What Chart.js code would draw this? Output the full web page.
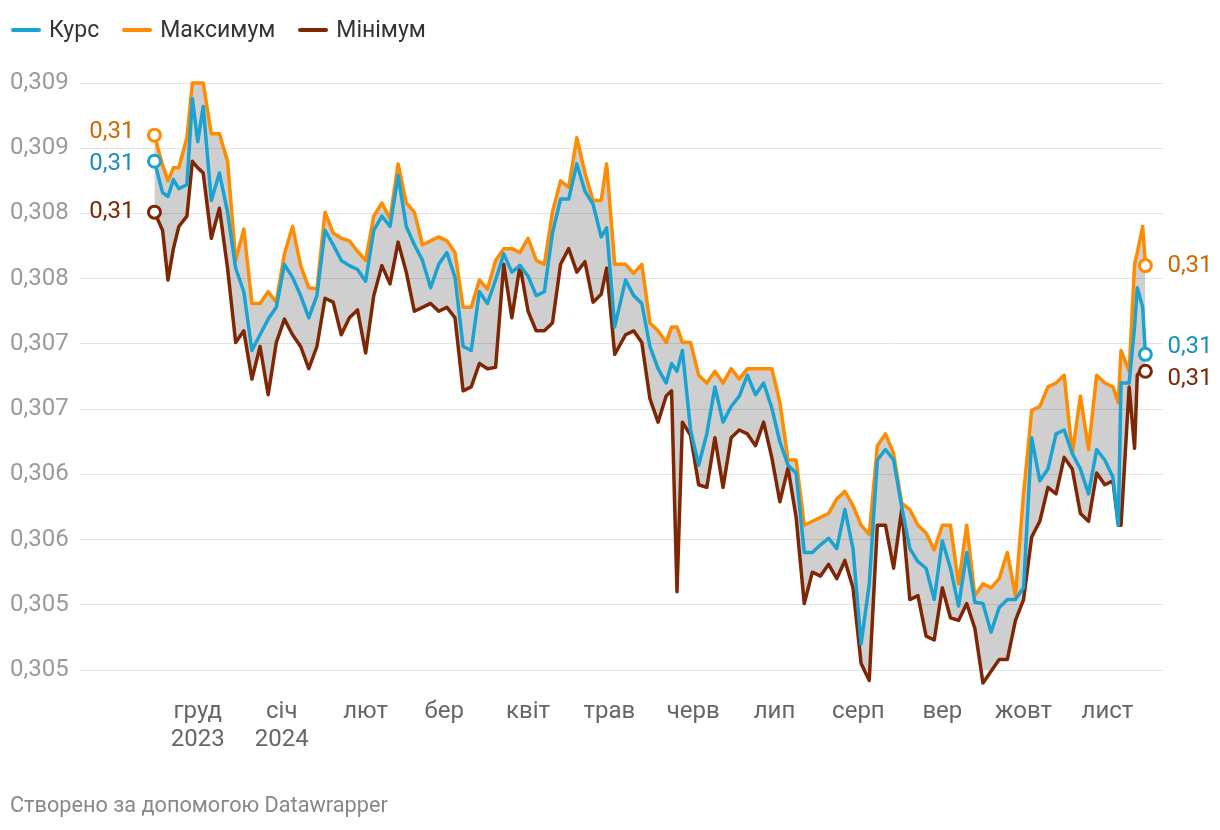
<!DOCTYPE html>
<html>
<head>
<meta charset="utf-8">
<script src="https://cdn.jsdelivr.net/npm/chart.js@4.4.0/dist/chart.umd.min.js"></script>
<style>
  body { margin: 0; background: #fff; font-family: Roboto, sans-serif; }
  #wrap { position: relative; width: 1220px; height: 830px; overflow: hidden; }
  canvas { position: absolute; left: 0; top: 0; }
  #legend { position: absolute; left: 11px; top: 16px; display: flex; font-size: 23px; color: #333; z-index: 2; }
  .item { display: flex; align-items: center; margin-right: 23px; }
  .sw { width: 30px; height: 4px; border-radius: 2px; margin-right: 8px; }
  #footer { position: absolute; left: 10px; top: 792px; font-size: 21.7px; color: #888; }
</style>
</head>
<body>
<div id="wrap">
  <canvas id="chart" width="1220" height="830"></canvas>
  <div id="legend"></div>
  <div id="footer">Створено за допомогою Datawrapper</div>
</div>
<script>
// days counted from 15.11.2023
var days = [0, 3, 5, 7, 9, 12, 14, 16, 18, 21, 24, 27, 30, 33, 36, 39, 42, 45, 48, 51,
  54, 57, 60, 63, 66, 69, 72, 75, 78, 81, 84, 87, 90, 93, 96, 99, 102, 105, 108, 111,
  114, 117, 120, 123, 126, 129, 132, 135, 138, 141, 144, 147, 150, 153, 156, 159, 162, 165, 167, 170,
  174, 177, 180, 183, 186, 189, 191, 193, 195, 198, 201, 204, 207, 210, 213, 216, 219, 222, 225, 228,
  231, 234, 237, 240, 243, 246, 249, 252, 255, 258, 261, 264, 267, 270, 273, 276, 279, 282, 285, 288,
  291, 294, 297, 300, 303, 306, 309, 312, 315, 318, 321, 324, 327, 330, 333, 336, 339, 342, 345, 348,
  351, 354, 356, 357, 360, 362, 363, 365, 366];

var kurs = [0.30840, 0.30816, 0.30813, 0.30826, 0.30819, 0.30822, 0.30888, 0.30855, 0.30882, 0.30810,
  0.30831, 0.30801, 0.30758, 0.30740, 0.30695, 0.30707, 0.30719, 0.30728, 0.30761, 0.30751,
  0.30737, 0.30720, 0.30737, 0.30787, 0.30776, 0.30764, 0.30760, 0.30757, 0.30748, 0.30787,
  0.30798, 0.30790, 0.30829, 0.30790, 0.30776, 0.30764, 0.30743, 0.30761, 0.30770, 0.30751,
  0.30698, 0.30695, 0.30740, 0.30731, 0.30749, 0.30769, 0.30755, 0.30760, 0.30752, 0.30737,
  0.30740, 0.30785, 0.30811, 0.30811, 0.30838, 0.30817, 0.30807, 0.30782, 0.30789, 0.30713,
  0.30749, 0.30737, 0.30731, 0.30698, 0.30681, 0.30670, 0.30685, 0.30679, 0.30695, 0.30634,
  0.30607, 0.30631, 0.30667, 0.30640, 0.30652, 0.30660, 0.30676, 0.30661, 0.30670, 0.30651,
  0.30625, 0.30607, 0.30601, 0.30540, 0.30540, 0.30546, 0.30551, 0.30543, 0.30573, 0.30543,
  0.30470, 0.30516, 0.30611, 0.30619, 0.30611, 0.30575, 0.30543, 0.30533, 0.30528, 0.30504,
  0.30549, 0.30528, 0.30499, 0.30540, 0.30502, 0.30501, 0.30479, 0.30498, 0.30504, 0.30504,
  0.30513, 0.30628, 0.30595, 0.30604, 0.30631, 0.30634, 0.30616, 0.30604, 0.30585, 0.30619,
  0.30611, 0.30598, 0.30561, 0.30670, 0.30670, 0.30713, 0.30743, 0.30728, 0.30692];

var maks = [0.30860, 0.30837, 0.30825, 0.30835, 0.30835, 0.30858, 0.30900, 0.30900, 0.30900, 0.30861,
  0.30861, 0.30840, 0.30764, 0.30788, 0.30731, 0.30731, 0.30740, 0.30732, 0.30769, 0.30790,
  0.30760, 0.30743, 0.30742, 0.30801, 0.30785, 0.30781, 0.30779, 0.30771, 0.30764, 0.30798,
  0.30808, 0.30796, 0.30838, 0.30808, 0.30801, 0.30776, 0.30779, 0.30782, 0.30779, 0.30770,
  0.30728, 0.30728, 0.30749, 0.30742, 0.30764, 0.30773, 0.30773, 0.30770, 0.30781, 0.30764,
  0.30761, 0.30801, 0.30825, 0.30820, 0.30858, 0.30831, 0.30810, 0.30810, 0.30838, 0.30761,
  0.30761, 0.30754, 0.30761, 0.30716, 0.30710, 0.30701, 0.30713, 0.30713, 0.30701, 0.30701,
  0.30676, 0.30670, 0.30679, 0.30670, 0.30681, 0.30673, 0.30681, 0.30681, 0.30681, 0.30681,
  0.30655, 0.30611, 0.30611, 0.30561, 0.30564, 0.30567, 0.30570, 0.30581, 0.30587, 0.30576,
  0.30561, 0.30554, 0.30622, 0.30631, 0.30616, 0.30578, 0.30573, 0.30561, 0.30555, 0.30542,
  0.30561, 0.30561, 0.30516, 0.30561, 0.30507, 0.30516, 0.30513, 0.30520, 0.30540, 0.30507,
  0.30585, 0.30649, 0.30652, 0.30667, 0.30670, 0.30676, 0.30616, 0.30660, 0.30619, 0.30676,
  0.30670, 0.30667, 0.30655, 0.30695, 0.30679, 0.30761, 0.30770, 0.30790, 0.30760];

var minimum = [0.30801, 0.30787, 0.30749, 0.30773, 0.30790, 0.30798, 0.30840, 0.30835, 0.30831, 0.30781,
  0.30804, 0.30758, 0.30701, 0.30710, 0.30673, 0.30698, 0.30661, 0.30701, 0.30719, 0.30707,
  0.30698, 0.30681, 0.30698, 0.30735, 0.30732, 0.30707, 0.30720, 0.30726, 0.30693, 0.30737,
  0.30760, 0.30746, 0.30778, 0.30755, 0.30725, 0.30728, 0.30731, 0.30725, 0.30728, 0.30720,
  0.30664, 0.30667, 0.30685, 0.30681, 0.30682, 0.30761, 0.30720, 0.30760, 0.30725, 0.30710,
  0.30710, 0.30716, 0.30761, 0.30773, 0.30755, 0.30763, 0.30732, 0.30738, 0.30758, 0.30692,
  0.30707, 0.30710, 0.30701, 0.30658, 0.30640, 0.30660, 0.30664, 0.30510, 0.30640, 0.30630,
  0.30592, 0.30590, 0.30628, 0.30590, 0.30628, 0.30634, 0.30631, 0.30622, 0.30640, 0.30613,
  0.30579, 0.30605, 0.30567, 0.30501, 0.30525, 0.30522, 0.30531, 0.30520, 0.30534, 0.30513,
  0.30455, 0.30442, 0.30561, 0.30561, 0.30528, 0.30573, 0.30504, 0.30507, 0.30476, 0.30473,
  0.30513, 0.30490, 0.30488, 0.30501, 0.30482, 0.30440, 0.30449, 0.30458, 0.30458, 0.30488,
  0.30504, 0.30552, 0.30564, 0.30590, 0.30585, 0.30613, 0.30604, 0.30570, 0.30564, 0.30601,
  0.30592, 0.30595, 0.30561, 0.30561, 0.30667, 0.30620, 0.30676, 0.30682, 0.30679];

// month starts (days from 15.11.2023) and their labels
var monthDays = [16, 47, 78, 107, 138, 168, 199, 229, 260, 291, 321, 352];
var monthLabels = [['груд', '2023'], ['січ', '2024'], 'лют', 'бер', 'квіт', 'трав', 'черв', 'лип', 'серп', 'вер', 'жовт', 'лист'];

var yTicks = [0.3045, 0.3050, 0.3055, 0.3060, 0.3065, 0.3070, 0.3075, 0.3080, 0.3085, 0.3090];
var yLabels = ['0,305', '0,305', '0,306', '0,306', '0,307', '0,307', '0,308', '0,308', '0,309', '0,309'];

var seriesNames = ['Курс', 'Максимум', 'Мінімум'];
var colors = ['#1aa2d0', '#ff8c00', '#7f2704'];
var textColors = ['#1a8fb8', '#cc6a00', '#7b2905'];

var lastIdx = days.length - 1;

function pts(arr) {
  return days.map(function (d, i) { return { x: d, y: arr[i] }; });
}

function edgeRadius(ctx) {
  return (ctx.dataIndex === 0 || ctx.dataIndex === lastIdx) ? 6 : 0;
}

function fmt(v) {
  return v.toFixed(2).replace('.', ',');
}

function makeSet(i, arr) {
  return {
    label: seriesNames[i],
    data: pts(arr),
    borderColor: colors[i],
    borderWidth: 3.5,
    borderJoinStyle: 'round',
    tension: 0,
    fill: false,
    clip: false,
    pointRadius: edgeRadius,
    pointHoverRadius: edgeRadius,
    pointBorderWidth: 3,
    pointBorderColor: colors[i],
    pointBackgroundColor: '#fff'
  };
}

var sets = [makeSet(0, kurs), makeSet(1, maks), makeSet(2, minimum)];
// grey band between max and min
sets[1].fill = '+1';
sets[1].backgroundColor = 'rgba(0,0,0,0.19)';

// legend
var legendBox = document.getElementById('legend');
seriesNames.forEach(function (name, i) {
  var item = document.createElement('div');
  item.className = 'item';
  item.innerHTML = '<span class="sw" style="background:' + colors[i] + '"></span><span>' + name + '</span>';
  legendBox.appendChild(item);
});

// value labels next to the first and last points
var endLabels = {
  id: 'endLabels',
  afterDatasetsDraw: function (chart) {
    var c = chart.ctx;
    c.save();
    c.font = '24px Roboto';
    c.textBaseline = 'middle';
    [0, lastIdx].forEach(function (idx) {
      var items = chart.data.datasets.map(function (ds, i) {
        var el = chart.getDatasetMeta(i).data[idx];
        return { x: el.x, y: el.y, ty: el.y, color: textColors[i], text: fmt(ds.data[idx].y) };
      });
      items.sort(function (a, b) { return a.y - b.y; });
      for (var pass = 0; pass < 10; pass++) {
        for (var k = 1; k < items.length; k++) {
          var gap = items[k].ty - items[k - 1].ty;
          if (gap < 32) {
            var s = (32 - gap) / 2;
            items[k - 1].ty -= s;
            items[k].ty += s;
          }
        }
      }
      items.forEach(function (it) {
        c.fillStyle = it.color;
        if (idx === 0) {
          c.textAlign = 'right';
          c.fillText(it.text, it.x - 20, it.ty);
        } else {
          c.textAlign = 'left';
          c.fillText(it.text, it.x + 22, it.ty);
        }
      });
    });
    c.restore();
  }
};

new Chart(document.getElementById('chart'), {
  type: 'line',
  data: { datasets: sets },
  options: {
    responsive: false,
    animation: false,
    devicePixelRatio: 1,
    layout: { padding: { left: 10, top: 83, right: 57, bottom: 70 } },
    plugins: {
      legend: { display: false },
      tooltip: { enabled: false },
      filler: { drawTime: 'beforeDatasetsDraw' }
    },
    scales: {
      x: {
        type: 'linear',
        min: -27.5,
        max: 372.5,
        afterBuildTicks: function (scale) {
          scale.ticks = monthDays.map(function (d) { return { value: d }; });
        },
        afterFit: function (scale) { scale.height = 90; },
        grid: { display: false, drawTicks: false },
        border: { display: false },
        ticks: {
          autoSkip: false,
          maxRotation: 0,
          padding: 28,
          color: '#666',
          font: { family: 'Roboto', size: 24, lineHeight: 1.17 },
          callback: function (v, i) { return monthLabels[i]; }
        }
      },
      y: {
        min: 0.3045,
        max: 0.3090,
        afterBuildTicks: function (scale) {
          scale.ticks = yTicks.map(function (v) { return { value: v }; });
        },
        afterFit: function (scale) { scale.width = 70; },
        grid: { color: '#e3e3e3', lineWidth: 1, drawTicks: false },
        border: { display: false },
        ticks: {
          crossAlign: 'far',
          padding: 0,
          color: '#9a9a9a',
          font: { family: 'Roboto', size: 24 },
          callback: function (v, i) { return yLabels[i]; }
        }
      }
    }
  },
  plugins: [endLabels]
});
</script>
</body>
</html>
